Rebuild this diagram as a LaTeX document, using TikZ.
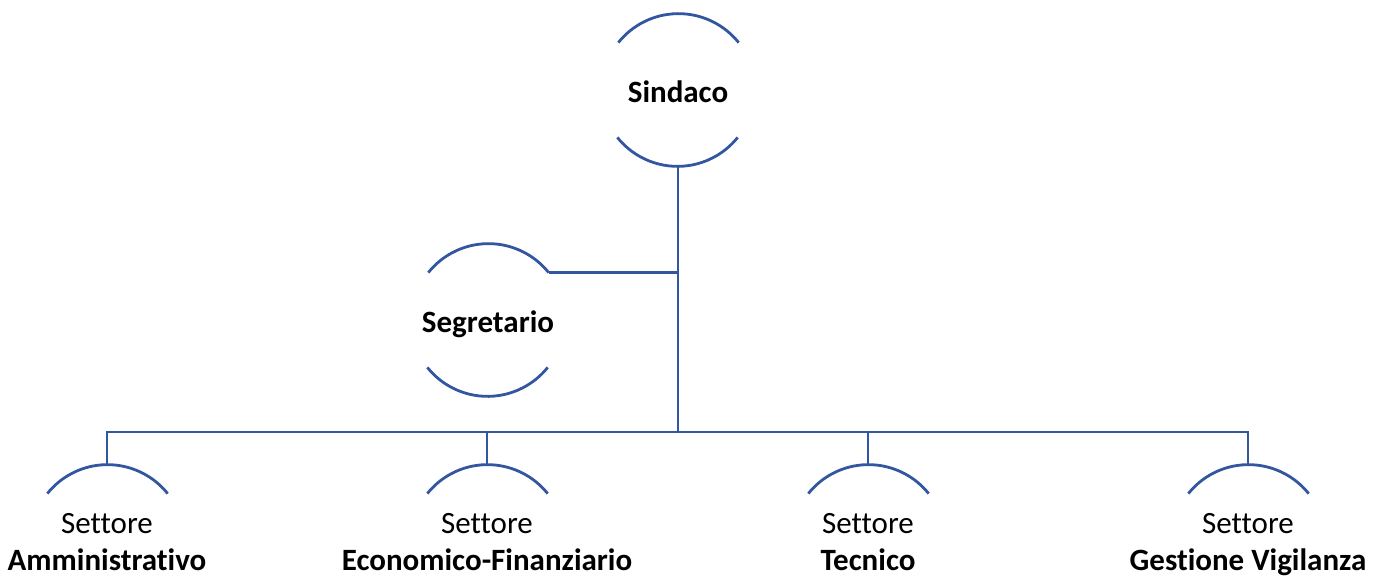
\documentclass[tikz,border=0pt]{standalone}
\usepackage{fontspec}
\setmainfont[Ligatures={NoCommon}]{Carlito}
\definecolor{linecol}{RGB}{50,86,160}
\begin{document}
\begin{tikzpicture}[x=1pt,y=1pt,
  ring/.style={circle,minimum size=154pt,inner sep=0pt,outer sep=0pt},
  toplabel/.style={anchor=base,inner sep=0pt,font=\fontsize{31}{37}\selectfont\bfseries},
  sectlabel/.style={align=center,inner sep=0pt,font=\fontsize{31}{37}\selectfont},
  link/.style={draw=linecol,line width=2.8pt},
]
\useasboundingbox (0,0) rectangle (1385,-576);
\node[ring] (sindaco) at (678,-90) {};
\node[ring] (segretario) at (488,-320) {};
\node[ring] (amm) at (107,-541) {};
\node[ring] (eco) at (487,-541) {};
\node[ring] (tec) at (868,-541) {};
\node[ring] (ges) at (1248,-541) {};
\node[toplabel] (sindaco-t) at (678,-102) {Sindaco};
\node[toplabel] (segretario-t) at (488,-332) {Segretario};
\node[sectlabel] (amm-t) at (107,-545) {Settore\\\textbf{Amministrativo}\vphantom{g}};
\node[sectlabel] (eco-t) at (487,-545) {Settore\\\textbf{Economico-Finanziario}\vphantom{g}};
\node[sectlabel] (tec-t) at (868,-545) {Settore\\\textbf{Tecnico}\vphantom{g}};
\node[sectlabel] (ges-t) at (1248,-545) {Settore\\\textbf{Gestione Vigilanza}};
% arcs of the circles
\foreach \n in {sindaco,segretario}{
  \draw[link] (\n.38.6) arc (38.6:141.4:77);
  \draw[link] (\n.218.6) arc (218.6:321.4:77);
}
\foreach \n in {amm,eco,tec,ges}{
  \draw[link] (\n.38.6) arc (38.6:141.4:77);
}
\coordinate (bus) at (678,-432);
\draw[link] (sindaco.south) -- (bus);
\draw[link] (segretario.38.6) -- (segretario.38.6 -| sindaco.south);
\foreach \n in {amm,eco,tec,ges}{
  \draw[link,line join=miter] (bus) -| (\n.north);
}
\end{tikzpicture}
\end{document}
